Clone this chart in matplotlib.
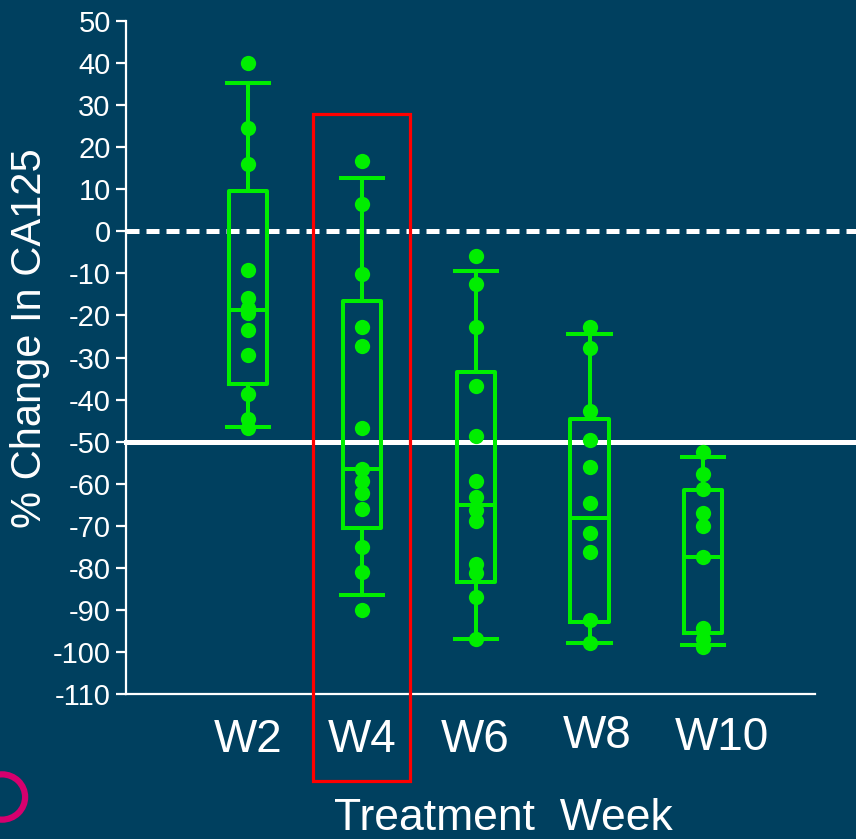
import matplotlib
matplotlib.use("Agg")
import matplotlib.pyplot as plt
from matplotlib.patches import Rectangle, Circle
from matplotlib.transforms import ScaledTranslation

plt.rcParams['font.family'] = ['Liberation Sans', 'DejaVu Sans']
plt.rcParams['axes.unicode_minus'] = False

# data
weeks = ["W2", "W4", "W6", "W8", "W10"]
w2 = [40, 24.5, 16, -9.2, -15.9, -18.3, -19.5, -23.5, -29.4, -38.7, -44.5, -46.8]
w4 = [16.8, 6.5, -10.2, -22.8, -27.3, -46.8, -56.4, -59.4, -62.1, -66.0, -75.1, -80.9, -90.0]
w6 = [-5.9, -12.5, -22.7, -36.7, -48.6, -59.3, -63.1, -66.3, -68.9, -79.1, -81.3, -86.9, -97.0]
w8 = [-22.8, -27.8, -42.6, -49.6, -56.0, -64.7, -71.6, -76.3, -92.4, -97.8]
w10 = [-52.4, -57.8, -61.3, -66.9, -70.1, -77.4, -94.4, -96.8, -98.8]
points = [w2, w4, w6, w8, w10]

# box statistics as drawn
medians = [-18.7, -56.5, -65.1, -68.2, -77.5]
q1 = [-36.3, -70.6, -83.3, -92.8, -95.4]
q3 = [9.7, -16.5, -33.4, -44.5, -61.5]
whisker_low = [-46.5, -86.5, -97.0, -97.8, -98.4]
whisker_high = [35.2, 12.6, -9.4, -24.4, -53.6]

bg = '#00405f'
green = '#00ee00'

fig = plt.figure(figsize=(8.56, 8.39), dpi=100, facecolor=bg)
ax = fig.add_axes([0.1472, 0.1728, 0.8049, 0.8021])
ax.set_facecolor(bg)

positions = list(range(1, len(weeks) + 1))
stats = []
for i in range(len(weeks)):
    stats.append({'med': medians[i], 'q1': q1[i], 'q3': q3[i],
                  'whislo': whisker_low[i], 'whishi': whisker_high[i],
                  'fliers': []})

line_kw = dict(color=green, linewidth=2.9)
ax.bxp(stats, positions=positions, widths=0.334, capwidths=0.37,
       showfliers=False, boxprops=line_kw, whiskerprops=line_kw,
       capprops=line_kw, medianprops=line_kw, zorder=3)

for pos, vals in zip(positions, points):
    ax.plot([pos] * len(vals), vals, 'o', color=green, markersize=11,
            markeredgewidth=0, zorder=4)

# reference lines at 0 and -50 reach the right edge of the figure
ax.axhline(0, xmin=0, xmax=1.06, color='white', linewidth=3.6,
           dashes=(2.6, 1.4), clip_on=False, zorder=2)
ax.axhline(-50, xmin=0, xmax=1.06, color='white', linewidth=3.6,
           clip_on=False, zorder=2)

# red highlight around W4
ax.add_patch(Rectangle((1.572, -130.7), 0.852, 158.6, fill=False,
                       edgecolor='#ff0000', linewidth=2.3, clip_on=False,
                       zorder=5))

ax.set_xlim(-0.07, 5.98)
ax.set_ylim(-110, 50)
ax.set_yticks(range(-110, 51, 10))
ax.set_xticks(positions)
ax.set_xticklabels(weeks)

ax.tick_params(axis='y', colors='white', labelsize=21, length=7, width=1.6,
               direction='out', pad=4)
ax.tick_params(axis='x', colors='white', labelsize=33, length=0, pad=17)

# the W8 and W10 labels sit a little off their boxes in the original
xlabels = ax.get_xticklabels()
xlabels[3].set_transform(xlabels[3].get_transform() +
                         ScaledTranslation(0.08, 0.04, fig.dpi_scale_trans))
xlabels[4].set_transform(xlabels[4].get_transform() +
                         ScaledTranslation(0.19, 0.02, fig.dpi_scale_trans))

for side in ['top', 'right']:
    ax.spines[side].set_visible(False)
for side in ['left', 'bottom']:
    ax.spines[side].set_color('white')
    ax.spines[side].set_linewidth(1.6)

fig.text(30 / 856, 1 - 338 / 839, "% Change In CA125", rotation=90,
         color='white', fontsize=30, ha='center', va='center')
fig.text(503 / 856, 0, "Treatment  Week", color='white', fontsize=32,
         ha='center', va='bottom')

# logo fragment in the lower-left corner
fig.patches.append(Circle((2 / 856, 1 - 797 / 839), 0.027, transform=fig.transFigure,
                          fill=False, edgecolor='#d6006e', linewidth=4.5))

fig.savefig("out.png", dpi=100, facecolor=bg)
